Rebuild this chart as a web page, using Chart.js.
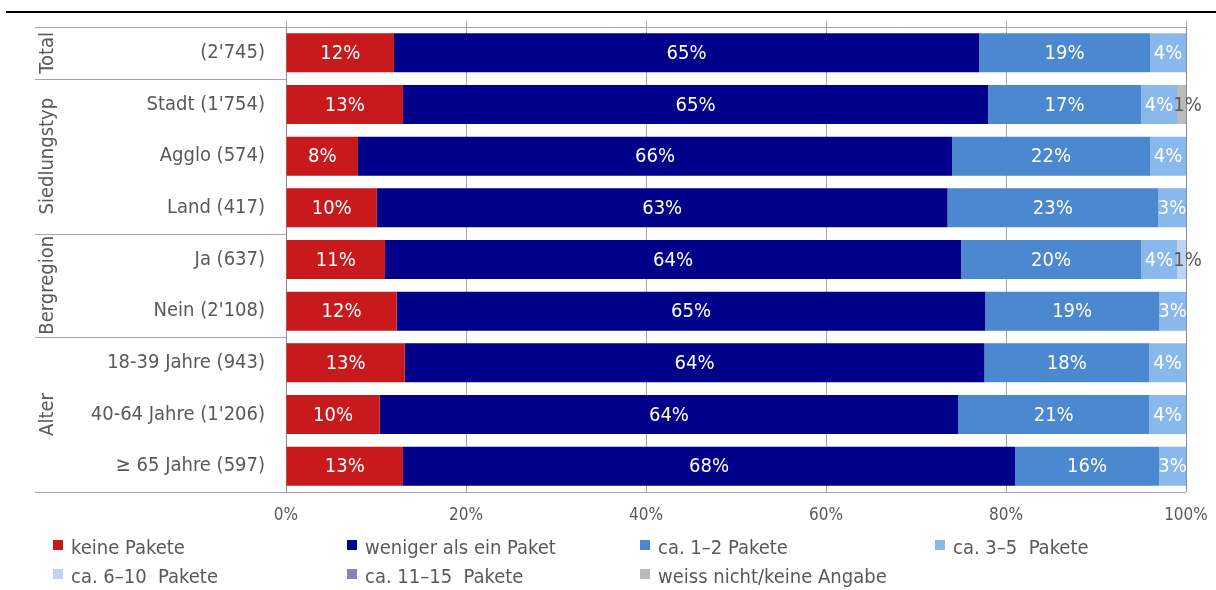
<!DOCTYPE html>
<html lang="de">
<head>
<meta charset="utf-8">
<title>Pakete pro Woche</title>
<script src="https://cdn.jsdelivr.net/npm/chart.js@4.4.1/dist/chart.umd.min.js"></script>
<style>
  html, body { margin: 0; padding: 0; background: #fff; }
  #wrap { position: relative; width: 1216px; height: 590px; overflow: hidden; }
  #chart { position: absolute; left: 0; top: 0; }
  .lg { position: absolute; height: 20px; line-height: 20px; white-space: pre;
        font: 20px "DejaVu Sans Condensed", "DejaVu Sans", sans-serif; color: #595959; padding-left: 18px; }
  .lg i { position: absolute; left: 0; top: 5px; width: 10px; height: 10px; }
</style>
</head>
<body>
<div id="wrap">
  <canvas id="chart" width="1216" height="590"></canvas>
  <div id="legend"></div>
</div>
<script>
// rows of the chart (n in brackets)
const categories = ["(2'745)", "Stadt (1'754)", "Agglo (574)", "Land (417)", "Ja (637)", "Nein (2'108)",
  "18-39 Jahre (943)", "40-64 Jahre (1'206)", "\u2265 65 Jahre (597)"];

// row groups: label, first row, last row
const groups = [["Total", 0, 0], ["Siedlungstyp", 1, 3], ["Bergregion", 4, 5], ["Alter", 6, 8]];

// shares in %
const keinePakete    = [12, 13, 8, 10.1, 11, 12.3, 13.2, 10.4, 13];
const wenigerAlsEins = [65, 65, 66, 63.4, 64, 65.4, 64.4, 64.3, 68];
const pakete1bis2    = [19, 17, 22, 23.4, 20, 19.3, 18.3, 21.2, 16];
const pakete3bis5    = [4, 4, 4, 3.1, 4, 3, 4.1, 4.1, 3];
const pakete6bis10   = [0, 0, 0, 0, 1, 0, 0, 0, 0];
const pakete11bis15  = [0, 0, 0, 0, 0, 0, 0, 0, 0];
const weissNicht     = [0, 1, 0, 0, 0, 0, 0, 0, 0];

const seriesLabels = ["keine Pakete", "weniger als ein Paket", "ca. 1\u20132 Pakete", "ca. 3\u20135  Pakete",
  "ca. 6\u201310  Pakete", "ca. 11\u201315  Pakete", "weiss nicht/keine Angabe"];
const seriesData = [keinePakete, wenigerAlsEins, pakete1bis2, pakete3bis5, pakete6bis10, pakete11bis15, weissNicht];
const seriesColors = ["#c81a1c", "#00008b", "#4b88d0", "#88b8ec", "#bcd4f0", "#8585b5", "#bababa"];

const xTicks = [0, 20, 40, 60, 80, 100];

const FONT = '"DejaVu Sans Condensed", "DejaVu Sans", sans-serif';
const GREY = '#595959';
const LINE = '#a6a6a6';

// frame, group column and rotated group names
const framePlugin = {
  id: 'frame',
  beforeDraw(chart){
    const c = chart.ctx;
    c.save();
    c.fillStyle = '#000';
    c.fillRect(6, 11, 1210, 2);
    c.restore();
  },
  afterDraw(chart){
    const c = chart.ctx, a = chart.chartArea, y = chart.scales.y, x = chart.scales.x;
    const half = (y.getPixelForValue(1) - y.getPixelForValue(0)) / 2;
    c.save();
    c.strokeStyle = LINE;
    c.lineWidth = 1;
    const hline = (py, x0, x1) => { c.beginPath(); c.moveTo(x0, Math.round(py) + 0.5); c.lineTo(x1, Math.round(py) + 0.5); c.stroke(); };
    hline(a.top, 35, a.right);
    hline(a.bottom, 35, a.right);
    groups.forEach(g => { if(g[1] > 0) hline(y.getPixelForValue(g[1]) - half, 35, a.left); });
    // short tick stubs above the plot
    xTicks.forEach(v => {
      const px = Math.round(x.getPixelForValue(v)) + 0.5;
      c.beginPath(); c.moveTo(px, a.top - 6); c.lineTo(px, a.top); c.stroke();
    });
    c.fillStyle = GREY;
    c.font = '20px ' + FONT;
    c.textAlign = 'center';
    c.textBaseline = 'middle';
    groups.forEach(g => {
      const mid = (y.getPixelForValue(g[1]) + y.getPixelForValue(g[2])) / 2;
      c.save();
      c.translate(48, mid);
      c.rotate(-Math.PI / 2);
      c.fillText(g[0], 0, 0);
      c.restore();
    });
    c.restore();
  }
};

// value labels in the middle of each segment
const valueLabels = {
  id: 'valueLabels',
  afterDatasetsDraw(chart){
    const c = chart.ctx;
    c.save();
    c.font = '20px ' + FONT;
    c.textAlign = 'center';
    c.textBaseline = 'middle';
    chart.data.datasets.forEach((ds, di) => {
      chart.getDatasetMeta(di).data.forEach((el, i) => {
        const v = ds.data[i];
        if(!v) return;
        const small = v < 2;
        c.fillStyle = small ? GREY : '#fff';
        const cx = (el.x + el.base) / 2 + (small ? 6 : 0);
        c.fillText(Math.round(v) + '%', cx, el.y + 1);
      });
    });
    c.restore();
  }
};

const chart = new Chart(document.getElementById('chart'), {
  type: 'bar',
  data: {
    labels: categories,
    datasets: seriesLabels.map((l, i) => ({
      label: l, data: seriesData[i], backgroundColor: seriesColors[i],
      barPercentage: 0.755, categoryPercentage: 1, borderWidth: 0
    }))
  },
  options: {
    indexAxis: 'y',
    responsive: false,
    animation: false,
    devicePixelRatio: 1,
    layout: { padding: { top: 27, right: 30, left: 0, bottom: 0 } },
    plugins: { legend: { display: false }, tooltip: { enabled: false } },
    scales: {
      x: {
        stacked: true, min: 0, max: 100,
        afterFit: s => { s.height = 98; s.paddingLeft = 0; s.paddingRight = 0; },
        afterBuildTicks: s => { s.ticks = xTicks.map(v => ({ value: v })); },
        ticks: { callback: v => v + '%', color: GREY, font: { family: FONT, size: 17 }, padding: 13, maxRotation: 0 },
        grid: { color: ctx => (ctx.tick && (ctx.tick.value === 0 || ctx.tick.value === 100)) ? '#8c8c8c' : LINE, drawTicks: false },
        border: { display: false }
      },
      y: {
        stacked: true,
        afterFit: s => { s.width = 286; s.paddingTop = 0; s.paddingBottom = 0; },
        ticks: { color: GREY, font: { family: FONT, size: 20 }, padding: 21 },
        grid: { display: false, drawTicks: false },
        border: { display: false }
      }
    }
  },
  plugins: [framePlugin, valueLabels]
});

// legend: four columns, two rows
const legendCols = [53, 347, 640, 935];
const legendRows = [535, 564];
document.getElementById('legend').innerHTML = seriesLabels.map((l, i) => {
  const left = legendCols[i % 4], top = legendRows[Math.floor(i / 4)];
  return `<div class="lg" style="left:${left}px;top:${top}px"><i style="background:${seriesColors[i]}"></i>${l}</div>`;
}).join('');
</script>
</body>
</html>
